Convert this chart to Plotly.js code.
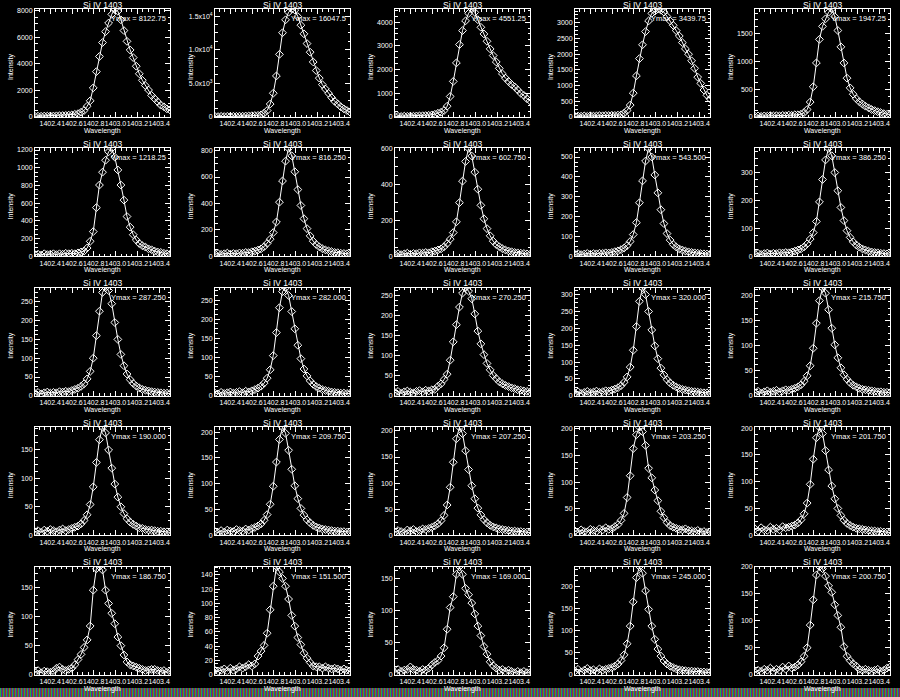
<!DOCTYPE html>
<html><head><meta charset="utf-8">
<script src="https://cdn.plot.ly/plotly-3.0.1.min.js"></script>
<style>html,body{margin:0;padding:0;background:#000;}#chart{width:900px;height:697px;}</style>
</head><body><div id="chart"></div>
<script>
const wavelength = [1402.260,1402.288,1402.316,1402.345,1402.373,1402.401,1402.429,1402.457,1402.485,1402.514,1402.542,1402.570,1402.598,1402.626,1402.655,1402.683,1402.711,1402.739,1402.767,1402.795,1402.824,1402.852,1402.880,1402.908,1402.936,1402.965,1402.993,1403.021,1403.049,1403.077,1403.105,1403.134,1403.162,1403.190,1403.218,1403.246,1403.274,1403.303,1403.331,1403.359,1403.387,1403.415,1403.444,1403.472,1403.500];

const p01 = [50,60,55,70,65,80,75,90,100,110,120,140,160,200,250,360,490,810,1220,2190,3410,4550,5600,6420,7070,7720,8122.75,7960,7310,6500,5690,5040,4470,3820,3250,2760,2360,2030,1620,1380,1140,890,770,610,530];
const p02 = [80,60,90,70,100,80,110,100,130,120,150,160,190,210,240,320,560,960,1930,3530,6100,9310,12520,14440,15570,16047.5,15890,14920,13640,12360,10910,9630,8180,6900,5780,4810,4170,3530,2890,2330,1930,1520,1200,960,720];
const p03 = [25,30,20,35,30,40,35,45,50,55,60,70,90,115,160,200,275,455,865,1500,2280,3050,3640,4050,4370,4551.25,4410,4100,3780,3500,3190,2870,2590,2320,2050,1820,1640,1500,1370,1270,1140,1000,910,770,680];
const p04 = [20,30,25,35,20,40,30,35,45,40,50,45,55,50,60,70,120,210,380,760,1310,1860,2300,2720,3060,3300,3370,3439.75,3400,3340,3200,3060,2920,2750,2580,2370,2170,2000,1790,1550,1270,1070,860,690,580];
const p05 = [15,20,10,20,15,25,20,25,20,30,25,35,30,40,40,50,80,135,270,545,975,1400,1635,1770,1890,1947.25,1810,1560,1265,975,700,525,410,330,275,235,195,165,135,115,95,80,60,50,40];
const p06 = [20,25,15,30,20,25,30,20,30,25,35,30,35,30,40,50,60,95,170,280,550,805,950,1085,1180,1218.25,1120,975,805,635,450,330,245,185,145,120,105,85,75,60,50,45,35,30,25];
const p07 = [18,22,15,20,25,18,22,20,26,24,30,28,35,40,48,57,73,98,130,180,260,410,570,720,816.25,760,640,505,385,285,210,155,115,90,72,58,49,42,36,30,28,24,22,20,18];
const p08 = [12,15,10,14,18,12,16,15,20,18,22,20,26,30,36,42,54,72,96,133,193,300,420,530,602.75,560,470,375,285,210,155,115,85,66,54,43,36,30,26,22,20,18,16,14,12];
const p09 = [10,14,9,12,15,11,14,13,16,15,18,17,20,24,28,34,42,55,75,110,170,270,380,480,543.5,500,410,320,235,165,115,82,60,47,38,32,27,23,20,18,16,14,13,12,11];
const p10 = [8,11,7,10,12,9,11,10,13,12,14,13,16,19,23,27,34,45,62,85,125,195,275,345,386.25,360,300,235,175,128,92,68,52,41,33,27,23,19,16,14,13,11,10,9,8];
const p11 = [6,9,5,8,10,7,9,8,11,10,12,11,14,17,20,25,32,45,65,100,160,225,275,287.25,280,245,195,150,110,80,58,43,33,26,21,17,15,13,11,10,9,8,7,7,6];
const p12 = [7,5,9,6,8,10,7,9,11,8,12,10,13,16,20,25,33,46,68,105,165,230,272,282,262,220,175,132,97,70,52,39,30,24,20,16,14,12,10,9,8,7,7,6,6];
const p13 = [8,11,6,10,12,9,7,11,13,10,14,12,15,16,24,30,41,54,89,135,178,222,257,270.25,262,243,205,162,130,103,81,65,51,43,35,30,26,23,20,18,15,14,12,11,9];
const p14 = [8,12,7,10,13,9,11,14,10,12,15,14,17,20,24,30,40,56,85,135,205,280,320,300,250,195,148,110,82,62,48,38,31,26,22,19,17,15,13,12,11,10,9,9,8];
const p15 = [6,9,5,8,10,7,9,11,8,10,12,11,13,15,18,22,29,40,60,95,145,190,215.75,205,172,135,102,76,56,42,33,26,21,18,15,13,12,11,10,9,8,8,7,7,6];
const p16 = [6,8,5,9,7,10,8,6,9,11,8,10,12,14,16,20,26,36,54,85,128,168,190,180,150,118,90,67,50,38,29,23,19,16,13,12,10,9,9,8,7,7,6,6,5];
const p17 = [7,5,9,6,10,8,7,11,9,8,12,10,13,15,18,22,29,40,60,95,142,186,209.75,198,165,128,96,71,52,39,30,24,19,16,14,12,11,10,9,8,8,7,7,6,6];
const p18 = [6,9,7,5,10,8,11,7,9,12,11,13,15,18,22,28,38,58,92,140,185,207.25,195,162,126,95,70,52,39,30,24,19,16,14,12,11,10,9,8,8,7,7,6,6,5];
const p19 = [8,5,10,7,6,11,9,7,12,10,14,11,12,16,20,28,41,71,112,163,189,203.25,195,169,126,108,85,65,45,33,24,18,15,13,11,10,12,9,8,7,9,6,7,5,6];
const p20 = [12,8,14,10,9,15,11,13,10,16,14,15,17,19,23,29,40,60,95,142,182,201.75,190,158,122,92,68,50,37,28,22,18,15,13,12,11,10,9,8,8,7,7,6,6,5];
const p21 = [4,7,3,6,5,4,6,11,13,9,7,9,11,17,26,35,47,60,84,146,183,186.75,181,146,123,106,88,65,50,34,22,17,15,13,11,9,7,8,9,9,7,6,7,4,5];
const p22 = [6,5,6,8,5,9,6,8,11,9,11,14,12,15,26,33,41,58,91,124,151.5,144,135,124,106,83,68,52,42,30,23,17,12,11,11,9,11,9,8,9,8,6,8,6,5];
const p23 = [3,8,5,7,8,12,8,7,5,8,7,10,15,19,22,29,42,71,105,122,157,169,157,135,125,112,95,76,61,44,32,20,14,10,7,8,5,7,5,3,5,3,5,3,3];
const p24 = [8,12,6,10,14,9,11,7,13,10,12,14,16,19,24,32,45,70,110,165,220,245,230,190,148,110,80,58,42,31,24,19,16,13,11,10,9,8,8,7,7,6,6,5,5];
const p25 = [4,8,6,10,8,12,6,10,8,14,10,16,12,14,18,24,34,50,92,139,185,200.75,197,183,165,153,130,110,88,52,34,26,20,16,10,8,10,8,6,8,10,6,8,12,14];

const ymaxLabels = ["8122.75","16047.5","4551.25","3439.75","1947.25","1218.25","816.250","602.750","543.500","386.250","287.250","282.000","270.250","320.000","215.750","190.000","209.750","207.250","203.250","201.750","186.750","151.500","169.000","245.000","200.750"];
const yTickStep = [2000,5000,1000,500,500,200,200,200,100,100,50,50,50,50,50,50,50,50,50,50,50,20,50,50,50];
const p02TickVals = [0,5000,10000,15000];
const p02TickText = ["0","5.0x10<sup>3</sup>","1.0x10<sup>4</sup>","1.5x10<sup>4</sup>"];
const xTickVals = [1402.4,1402.6,1402.8,1403.0,1403.2,1403.4];
const xTickText = ["1402.4","1402.6","1402.8","1403.0","1403.2","1403.4"];
const panelTitle = "Si IV 1403";
const xTitle = "Wavelength";
const yTitle = "Intensity";

const panels = [p01,p02,p03,p04,p05,p06,p07,p08,p09,p10,p11,p12,p13,p14,p15,p16,p17,p18,p19,p20,p21,p22,p23,p24,p25];

const W = 900, H = 697, cellW = 180, cellH = 139.4;
const FONT = "Liberation Sans, Arial, sans-serif";
const traces = [];
const layout = {
  width: W, height: H,
  margin: {l:0, r:0, t:0, b:0},
  paper_bgcolor: "#000", plot_bgcolor: "#000",
  showlegend: false,
  annotations: [], images: []
};

panels.forEach((ys, k) => {
  const r = Math.floor(k / 5), c = k % 5;
  const sx = k === 0 ? "" : String(k + 1);
  const left = c * cellW + 35, right = c * cellW + 170;
  const top = r * cellH + 9, bottom = r * cellH + 117;
  const ymax = Math.max(...ys);
  traces.push({
    x: wavelength, y: ys, xaxis: "x" + sx, yaxis: "y" + sx,
    type: "scatter", mode: "lines+markers",
    line: {color: "#fff", width: 1},
    marker: {symbol: "diamond-open", size: 6, color: "#fff", line: {width: 1, color: "#fff"}},
    hoverinfo: "skip"
  });
  const common = {
    showline: true, linecolor: "#fff", linewidth: 1, mirror: "allticks",
    ticks: "inside", ticklen: 5, tickcolor: "#fff", tickwidth: 1,
    showgrid: false, zeroline: false,
    tickfont: {family: FONT, size: 7, color: "#fff"}
  };
  layout["xaxis" + sx] = Object.assign({}, common, {
    domain: [left / W, right / W], anchor: "y" + sx,
    range: [wavelength[0], wavelength[wavelength.length - 1]],
    tickmode: "array", tickvals: xTickVals, ticktext: xTickText, tickangle: 0,
    minor: {ticks: "inside", ticklen: 2.5, tickcolor: "#fff", dtick: 0.05, tick0: 1402.4}
  });
  const ya = Object.assign({}, common, {
    domain: [1 - bottom / H, 1 - top / H], anchor: "x" + sx,
    range: [0, ymax], tickangle: 0,
    minor: {ticks: "inside", ticklen: 2.5, tickcolor: "#fff", dtick: yTickStep[k] / 4, tick0: 0}
  });
  if (k === 1) {
    ya.tickmode = "array"; ya.tickvals = p02TickVals; ya.ticktext = p02TickText;
  } else {
    ya.tickmode = "linear"; ya.tick0 = 0; ya.dtick = yTickStep[k]; ya.tickformat = "d";
  }
  layout["yaxis" + sx] = ya;

  const cx = (left + right) / 2;
  layout.annotations.push(
    {text: panelTitle, xref: "paper", yref: "paper", x: cx / W, y: 1 - (r * cellH + 4.5) / H,
     xanchor: "center", yanchor: "middle", showarrow: false, font: {family: FONT, size: 8.5, color: "#fff"}},
    {text: "Ymax = " + ymaxLabels[k], xref: "paper", yref: "paper", x: (right - 2) / W, y: 1 - (r * cellH + 18.5) / H,
     xanchor: "right", yanchor: "middle", showarrow: false, font: {family: FONT, size: 7.5, color: "#fff"}},
    {text: xTitle, xref: "paper", yref: "paper", x: cx / W, y: 1 - (r * cellH + 131) / H,
     xanchor: "center", yanchor: "middle", showarrow: false, font: {family: FONT, size: 7, color: "#fff"}},
    {text: yTitle, xref: "paper", yref: "paper", x: (c * cellW + 11) / W, y: 1 - (r * cellH + 67) / H,
     xanchor: "center", yanchor: "middle", textangle: -90, showarrow: false, font: {family: FONT, size: 7, color: "#fff"}}
  );
});

const stripeSvg = "<svg xmlns='http://www.w3.org/2000/svg' width='900' height='9'><defs><pattern id='p' width='3' height='9' patternUnits='userSpaceOnUse'><rect x='0' width='1' height='9' fill='#33aa33'/><rect x='1' width='1' height='9' fill='#3344aa'/><rect x='2' width='1' height='9' fill='#992f2f'/></pattern></defs><rect width='900' height='9' fill='url(#p)'/></svg>";
layout.images.push({
  source: "data:image/svg+xml;charset=utf-8," + encodeURIComponent(stripeSvg),
  xref: "paper", yref: "paper", x: 0, y: 9 / H, sizex: 1, sizey: 9 / H,
  sizing: "stretch", xanchor: "left", yanchor: "top", layer: "above"
});

Plotly.newPlot("chart", traces, layout, {displayModeBar: false, staticPlot: true});
</script>
</body></html>
